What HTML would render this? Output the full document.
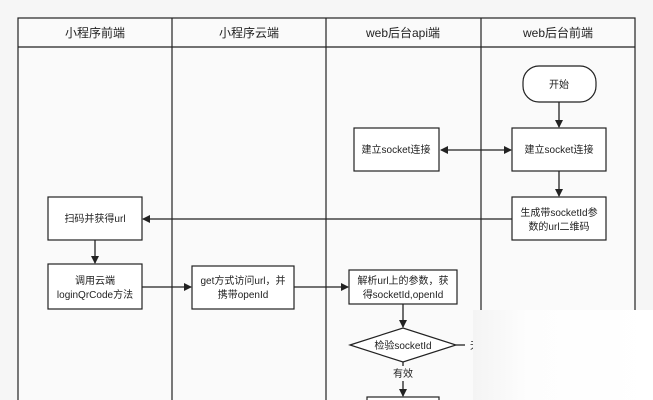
<!DOCTYPE html>
<html><head><meta charset="utf-8"><style>
html,body{margin:0;padding:0;background:#f6f6f6;}
svg{display:block;font-family:"Liberation Sans","Noto Sans CJK SC",sans-serif;}
</style></head><body>
<svg width="653" height="400" viewBox="0 0 653 400" xmlns="http://www.w3.org/2000/svg">
<defs>
<marker id="a" markerWidth="8" markerHeight="8" refX="7" refY="4" orient="auto" markerUnits="userSpaceOnUse"><path d="M0,0 L8,4 L0,8 z" fill="#222"/></marker>
<marker id="b" markerWidth="8" markerHeight="8" refX="1" refY="4" orient="auto" markerUnits="userSpaceOnUse"><path d="M8,0 L0,4 L8,8 z" fill="#222"/></marker>
<linearGradient id="w" x1="0" y1="0" x2="1" y2="0"><stop offset="0" stop-color="#f4f4f4"/><stop offset="0.3" stop-color="#fdfdfd"/><stop offset="1" stop-color="#fff"/></linearGradient>
</defs>
<rect x="0" y="0" width="653" height="400" fill="#f6f6f6"/>
<rect x="18" y="18" width="617" height="400" fill="#fafafa" stroke="#222" stroke-width="1.2"/>
<line x1="18" y1="47" x2="635" y2="47" stroke="#222" stroke-width="1.2"/>
<g stroke="#222" stroke-width="1.2">
<line x1="172" y1="18" x2="172" y2="400"/>
<line x1="326" y1="18" x2="326" y2="400"/>
<line x1="481" y1="18" x2="481" y2="400"/>
</g>
<g font-size="12" fill="#222" text-anchor="middle">
<text x="95" y="37">小程序前端</text>
<text x="249" y="37">小程序云端</text>
<text x="403" y="37">web后台api端</text>
<text x="558" y="37">web后台前端</text>
</g>
<g fill="#fff" stroke="#222" stroke-width="1.2">
<rect x="523" y="66" width="73" height="36" rx="16"/>
<rect x="354" y="128" width="85" height="43"/>
<rect x="512" y="128" width="94" height="43"/>
<rect x="512" y="197" width="94" height="43"/>
<rect x="48" y="197" width="94" height="43"/>
<rect x="48" y="264" width="94" height="45"/>
<rect x="192" y="266" width="102" height="43"/>
<rect x="349" y="270" width="108" height="34"/>
<polygon points="350,345 403,328 456,345 403,362"/>
<rect x="367" y="397" width="72" height="20"/>
</g>
<g stroke="#222" stroke-width="1.3" fill="none">
<line x1="559" y1="102" x2="559" y2="127" marker-end="url(#a)"/>
<line x1="441" y1="150" x2="511" y2="150" marker-start="url(#b)" marker-end="url(#a)"/>
<line x1="559" y1="171" x2="559" y2="196" marker-end="url(#a)"/>
<line x1="512" y1="219" x2="143" y2="219" marker-end="url(#a)"/>
<line x1="95" y1="240" x2="95" y2="263" marker-end="url(#a)"/>
<line x1="142" y1="287" x2="191" y2="287" marker-end="url(#a)"/>
<line x1="294" y1="287" x2="348" y2="287" marker-end="url(#a)"/>
<line x1="403" y1="304" x2="403" y2="327" marker-end="url(#a)"/>
<line x1="403" y1="362" x2="403" y2="366"/>
<line x1="403" y1="381" x2="403" y2="396" marker-end="url(#a)"/>
<line x1="456" y1="345" x2="465" y2="345"/>
</g>
<g font-size="10" fill="#222" text-anchor="middle">
<text x="559" y="88">开始</text>
<text x="396" y="153">建立socket连接</text>
<text x="559" y="153">建立socket连接</text>
<text x="559" y="216">生成带socketId参</text>
<text x="559" y="230">数的url二维码</text>
<text x="95" y="222">扫码并获得url</text>
<text x="95" y="284">调用云端</text>
<text x="95" y="298">loginQrCode方法</text>
<text x="243" y="284">get方式访问url，并</text>
<text x="243" y="298">携带openId</text>
<text x="403" y="284">解析url上的参数，获</text>
<text x="403" y="298">得socketId,openId</text>
<text x="403" y="349">检验socketId</text>
<text x="403" y="377">有效</text>
<text x="470" y="349" text-anchor="start">无</text>
</g>
<rect x="473" y="310" width="180" height="90" fill="url(#w)"/>
</svg>
</body></html>
